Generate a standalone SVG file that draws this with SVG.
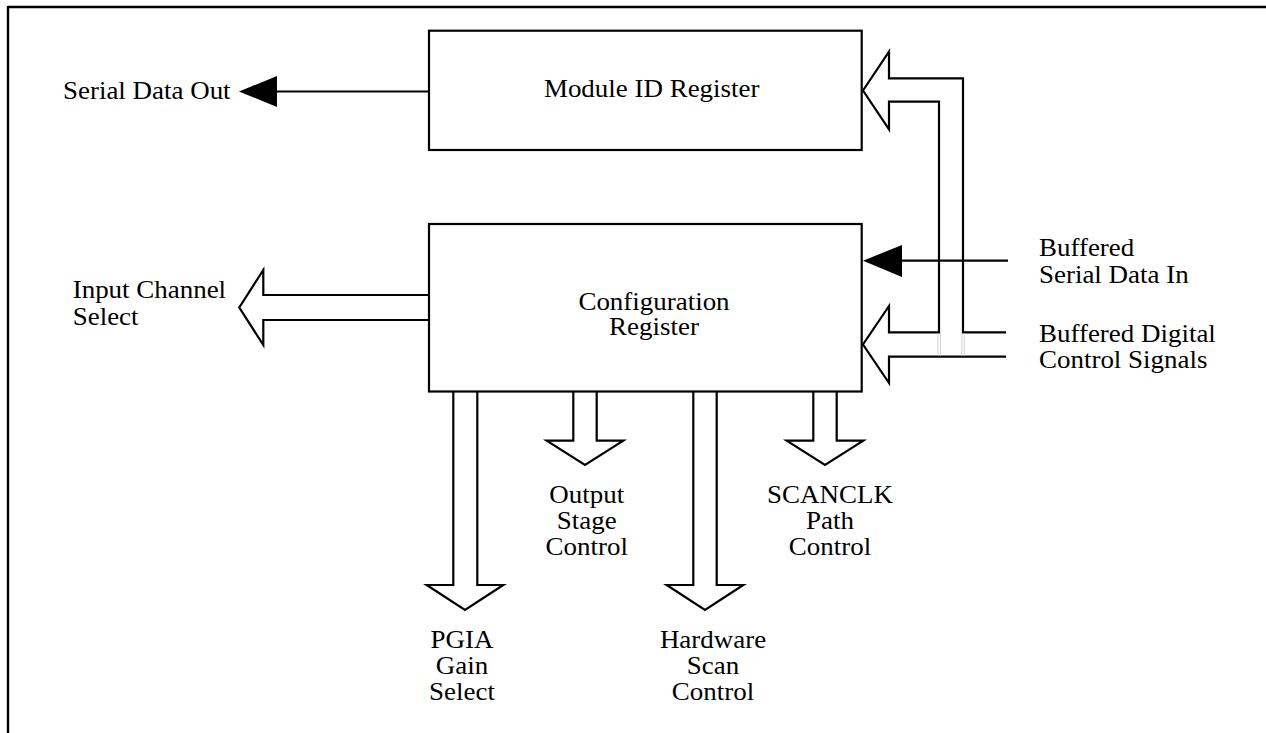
<svg xmlns="http://www.w3.org/2000/svg" width="1266" height="733" viewBox="0 0 1266 733">
<style>
.t{font-family:"Liberation Serif","Times New Roman",serif;font-size:24.5px;fill:#000}
.m{text-anchor:middle}
.box{fill:#fff;stroke:#000;stroke-width:2.2}
.bus{fill:none;stroke:#000;stroke-width:2.2;stroke-linejoin:miter;stroke-miterlimit:10}
.wire{fill:none;stroke:#000;stroke-width:2.2}
.head{fill:#000;stroke:none}
.ghost{fill:none;stroke:#c8c8c8;stroke-width:0.8}
</style>
<rect width="1266" height="733" fill="#fff"/>
<g id="frame">
<line x1="8" y1="7" x2="1266" y2="7" stroke="#000" stroke-width="2.4"/>
<line x1="8" y1="6" x2="8" y2="733" stroke="#000" stroke-width="2.4"/>
</g>
<g id="connectors">
<path class="bus" d="M1006,332.3 H963 V78.3 H889 V51.7 L863,90.5 L889,129.3 V101.7 H939 V332.3 H889 V306 L863,344.5 L889,383 V356.7 H1006"/>
<line class="ghost" x1="938" y1="333" x2="938" y2="356"/>
<line class="ghost" x1="940.5" y1="333" x2="940.5" y2="356"/>
<line class="ghost" x1="961.8" y1="333" x2="961.8" y2="356"/>
<line class="ghost" x1="964.2" y1="333" x2="964.2" y2="356"/>
<path class="bus" d="M429,295 H263.3 V270 L239.3,307.5 L263.3,345 V320 H429"/>
<path class="bus" d="M453.3,392 V585 H426.7 L465,610 L503.3,585 H477.3 V392"/>
<path class="bus" d="M573.3,392 V440.7 H546.7 L585,465 L623.3,440.7 H596.7 V392"/>
<path class="bus" d="M693.3,392 V585 H666.7 L705,610 L743.3,585 H716.7 V392"/>
<path class="bus" d="M813.3,392 V440.7 H786.7 L825,465 L863.3,440.7 H836.7 V392"/>
<line class="wire" x1="429" y1="91.5" x2="275" y2="91.5"/>
<polygon class="head" points="239,91.5 277,76 277,107"/>
<line class="wire" x1="1008" y1="260.7" x2="900" y2="260.7"/>
<polygon class="head" points="863,260.7 902,245 902,277"/>
</g>
<g id="module-id-register">
<rect class="box" x="429" y="30.7" width="432.7" height="119.3"/>
<text class="t m" transform="translate(651.7,97) scale(1.1,1)">Module ID Register</text>
</g>
<g id="configuration-register">
<rect class="box" x="429" y="224" width="432.7" height="167.5"/>
<text class="t m" transform="translate(654,310) scale(1.1,1)">Configuration</text>
<text class="t m" transform="translate(654,335) scale(1.1,1)">Register</text>
</g>
<g id="serial-data-out">
<text class="t" transform="translate(63,99) scale(1.1,1)">Serial Data Out</text>
</g>
<g id="input-channel-select">
<text class="t" transform="translate(72.7,298) scale(1.1,1)">Input Channel</text>
<text class="t" transform="translate(72.7,325) scale(1.1,1)">Select</text>
</g>
<g id="buffered-serial-data-in">
<text class="t" transform="translate(1039,256) scale(1.1,1)">Buffered</text>
<text class="t" transform="translate(1039,283) scale(1.1,1)">Serial Data In</text>
</g>
<g id="buffered-digital-control-signals">
<text class="t" transform="translate(1039,341.5) scale(1.1,1)">Buffered Digital</text>
<text class="t" transform="translate(1039,368) scale(1.1,1)">Control Signals</text>
</g>
<g id="output-stage-control">
<text class="t m" transform="translate(586.7,502.5) scale(1.1,1)">Output</text>
<text class="t m" transform="translate(586.7,529) scale(1.1,1)">Stage</text>
<text class="t m" transform="translate(586.7,555) scale(1.1,1)">Control</text>
</g>
<g id="scanclk-path-control">
<text class="t m" transform="translate(830,502.5) scale(1.1,1)">SCANCLK</text>
<text class="t m" transform="translate(830,529) scale(1.1,1)">Path</text>
<text class="t m" transform="translate(830,555) scale(1.1,1)">Control</text>
</g>
<g id="pgia-gain-select">
<text class="t m" transform="translate(462,647.7) scale(1.1,1)">PGIA</text>
<text class="t m" transform="translate(462,674) scale(1.1,1)">Gain</text>
<text class="t m" transform="translate(462,700) scale(1.1,1)">Select</text>
</g>
<g id="hardware-scan-control">
<text class="t m" transform="translate(713,647.7) scale(1.1,1)">Hardware</text>
<text class="t m" transform="translate(713,674) scale(1.1,1)">Scan</text>
<text class="t m" transform="translate(713,700) scale(1.1,1)">Control</text>
</g>
</svg>
